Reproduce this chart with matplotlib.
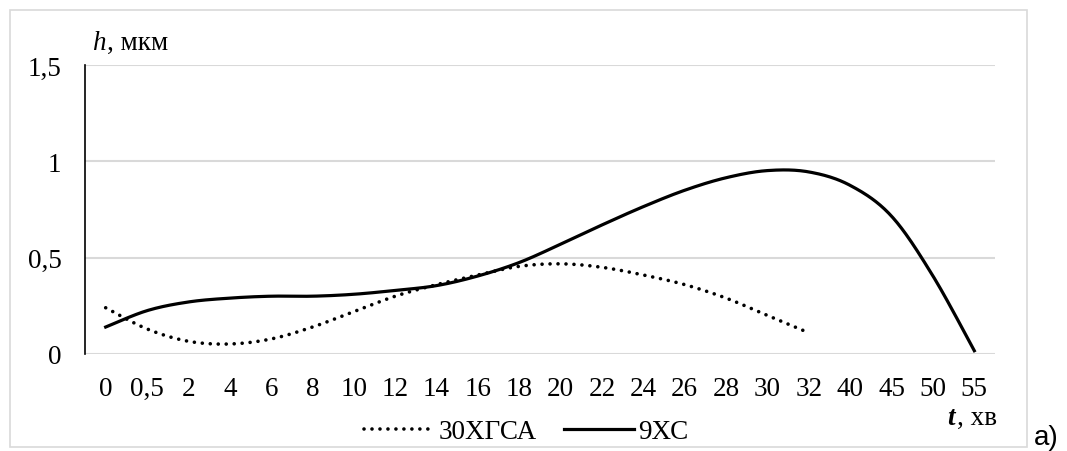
import numpy as np
import matplotlib.pyplot as plt
from matplotlib.lines import Line2D
from matplotlib.patches import Rectangle

# categories on the x axis (minutes)
t_labels = ['0', '0,5', '2', '4', '6', '8', '10', '12', '14', '16', '18', '20',
            '22', '24', '26', '28', '30', '32', '40', '45', '50', '55']

# h, um  (30ХГСА measured up to 32 min)
h_30hgsa = [0.24, 0.13, 0.066, 0.052, 0.078, 0.14, 0.22, 0.30, 0.36, 0.41,
            0.455, 0.468, 0.45, 0.41, 0.36, 0.29, 0.20, 0.11]
h_9hs = [0.14, 0.225, 0.27, 0.29, 0.30, 0.30, 0.31, 0.33, 0.355, 0.405, 0.475,
         0.57, 0.67, 0.765, 0.85, 0.915, 0.952, 0.945, 0.875, 0.715, 0.405,
         0.017]


def smooth(y, n=30):
    # catmull-rom, like excel's "smoothed line"
    y = np.asarray(y, float)
    x = np.arange(len(y), dtype=float)
    px = np.concatenate([[x[0]], x, [x[-1]]])
    py = np.concatenate([[y[0]], y, [y[-1]]])
    xs, ys = [], []
    s = np.linspace(0, 1, n)
    for i in range(1, len(px) - 2):
        for p, out in ((px, xs), (py, ys)):
            p0, p1, p2, p3 = p[i - 1], p[i], p[i + 1], p[i + 2]
            b1 = p1 + (p2 - p0) / 6
            b2 = p2 - (p3 - p1) / 6
            out.extend((1 - s) ** 3 * p1 + 3 * (1 - s) ** 2 * s * b1
                       + 3 * (1 - s) * s ** 2 * b2 + s ** 3 * p2)
    return np.array(xs), np.array(ys)


plt.rcParams['font.family'] = ['Liberation Serif', 'DejaVu Serif']

fig = plt.figure(figsize=(10.67, 4.52), dpi=100)
ax = fig.add_axes([85 / 1067, 1 - 355 / 452, 910 / 1067, 289 / 452])

dot_style = dict(color='black', lw=2.6, linestyle=(0, (0.01, 2.2)),
                 dash_capstyle='round')
sx, sy = smooth(h_30hgsa)
ax.plot(sx, sy, **dot_style)
sx, sy = smooth(h_9hs)
ax.plot(sx, sy, color='black', lw=2.3)

ax.set_xlim(-0.5, len(t_labels) - 0.5)
ax.set_ylim(0, 1.5)
ax.set_yticks([0, 0.5, 1, 1.5])
ax.set_yticklabels(['0', '0,5', '1', '1,5'])
ax.set_xticks(range(len(t_labels)))
ax.set_xticklabels(t_labels)
ax.tick_params(length=0, labelsize=19.5)
ax.tick_params(axis='y', pad=17)
ax.tick_params(axis='x', pad=16)
ax.yaxis.grid(True, color='#d9d9d9', lw=1.5)
ax.set_axisbelow(True)
for s in ['top', 'right', 'bottom']:
    ax.spines[s].set_visible(False)
ax.spines['left'].set_linewidth(1.2)

# axis titles
fig.text(92 / 1067, 1 - 50 / 452, 'h', fontsize=19.5, style='italic')
fig.text(107 / 1067, 1 - 50 / 452, ', мкм', fontsize=19.5)
fig.text(947 / 1067, 1 - 425 / 452, 't', fontsize=19.5, style='italic',
         weight='bold')
fig.text(957 / 1067, 1 - 425 / 452, ', хв', fontsize=19.5)
fig.text(1034 / 1067, 1 - 451 / 452, 'a)', fontsize=20, va='bottom',
         family='Liberation Sans')

# legend
handles = [Line2D([], [], **dot_style), Line2D([], [], color='black', lw=2.3)]
fig.legend(handles, ['30ХГСА', '9ХС'], loc='center', ncol=2,
           bbox_to_anchor=(526 / 1067, 1 - 433 / 452), frameon=False,
           fontsize=19.5, handlelength=2.6, handletextpad=0.15,
           columnspacing=1.0, borderpad=0)

# chart border
fig.patches.append(Rectangle((10 / 1067, 1 - 448 / 452), 1017 / 1067,
                             437 / 452, transform=fig.transFigure,
                             fill=False, edgecolor='#d9d9d9', lw=1.2))

plt.savefig('out.png', dpi=100)
